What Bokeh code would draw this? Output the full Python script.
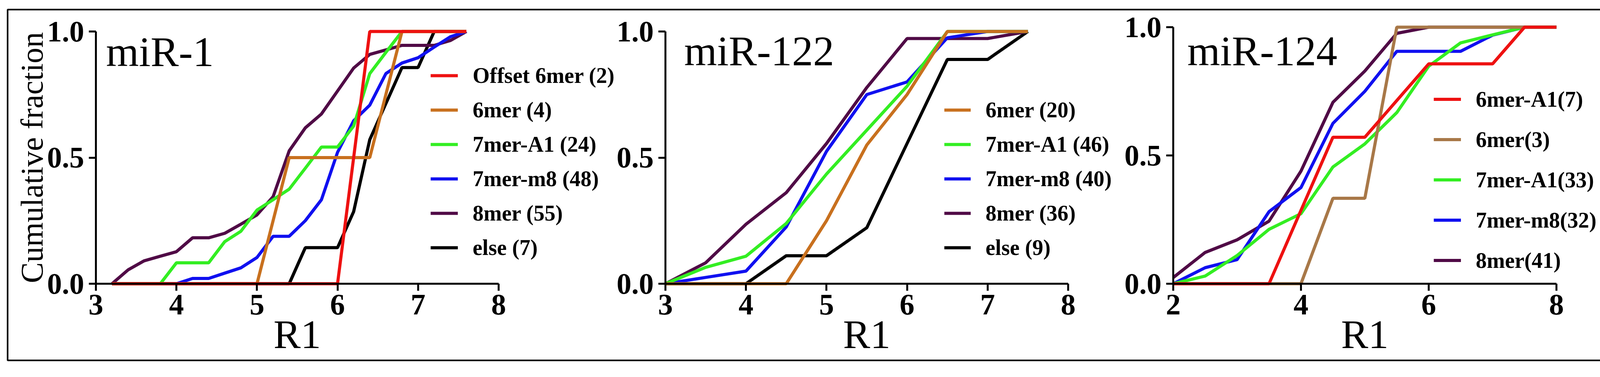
from bokeh.plotting import figure
from bokeh.models import (Range1d, LinearAxis, FixedTicker, PrintfTickFormatter,
                          Label, Legend, LegendItem)
from bokeh.core.properties import value
from bokeh.embed import file_html
from bokeh.resources import INLINE

# ---------------- data ----------------
# miR-1 panel
mir1_r1 = [3.2, 3.4, 3.6, 3.8, 4.0, 4.2, 4.4, 4.6, 4.8, 5.0, 5.2, 5.4,
           5.6, 5.8, 6.0, 6.2, 6.4, 6.6, 6.8, 7.0, 7.2, 7.4, 7.6]
mir1_offset6mer = [0, 0, 0, 0, 0, 0, 0, 0, 0, 0, 0, 0,
                   0, 0, 0, 0.5, 1, 1, 1, 1, 1, 1, 1]
mir1_6mer = [0, 0, 0, 0, 0, 0, 0, 0, 0, 0, 0.25, 0.5,
             0.5, 0.5, 0.5, 0.5, 0.5, 0.75, 1, 1, 1, 1, 1]
mir1_7merA1 = [0, 0, 0, 0, 0.083, 0.083, 0.083, 0.167, 0.208, 0.292, 0.333, 0.375,
               0.458, 0.542, 0.542, 0.625, 0.833, 0.917, 1, 1, 1, 1, 1]
mir1_7merm8 = [0, 0, 0, 0, 0, 0.021, 0.021, 0.042, 0.063, 0.104, 0.188, 0.188,
               0.25, 0.333, 0.521, 0.646, 0.708, 0.833, 0.875, 0.896, 0.938, 0.979, 1]
mir1_8mer = [0, 0.055, 0.091, 0.109, 0.127, 0.182, 0.182, 0.2, 0.236, 0.273, 0.345, 0.527,
             0.618, 0.673, 0.764, 0.855, 0.909, 0.927, 0.945, 0.945, 0.945, 0.964, 1]
mir1_else = [0, 0, 0, 0, 0, 0, 0, 0, 0, 0, 0, 0,
             0.143, 0.143, 0.143, 0.286, 0.571, 0.714, 0.857, 0.857, 1, 1, 1]
mir1_labels = ["Offset 6mer (2)", "6mer (4)", "7mer-A1 (24)", "7mer-m8 (48)", "8mer (55)", "else (7)"]

# miR-122 panel
mir122_r1 = [3.0, 3.5, 4.0, 4.5, 5.0, 5.5, 6.0, 6.5, 7.0, 7.5]
mir122_6mer = [0, 0, 0, 0, 0.25, 0.55, 0.75, 1, 1, 1]
mir122_7merA1 = [0, 0.065, 0.109, 0.239, 0.435, 0.609, 0.783, 1, 1, 1]
mir122_7merm8 = [0, 0.025, 0.05, 0.225, 0.525, 0.75, 0.8, 0.975, 1, 1]
mir122_8mer = [0, 0.083, 0.236, 0.361, 0.556, 0.778, 0.972, 0.972, 0.972, 1]
mir122_else = [0, 0, 0, 0.111, 0.111, 0.222, 0.556, 0.889, 0.889, 1]
mir122_labels = ["6mer (20)", "7mer-A1 (46)", "7mer-m8 (40)", "8mer (36)", "else (9)"]

# miR-124 panel
mir124_r1 = [2.0, 2.5, 3.0, 3.5, 4.0, 4.5, 5.0, 5.5, 6.0, 6.5, 7.0, 7.5, 8.0]
mir124_6merA1 = [0, 0, 0, 0, 0.286, 0.571, 0.571, 0.714, 0.857, 0.857, 0.857, 1, 1]
mir124_6mer = [0, 0, 0, 0, 0, 0.333, 0.333, 1, 1, 1, 1, 1, 1]
mir124_7merA1 = [0, 0.03, 0.11, 0.212, 0.273, 0.455, 0.545, 0.667, 0.848, 0.939, 0.97, 1, 1]
mir124_7merm8 = [0, 0.0625, 0.094, 0.281, 0.375, 0.625, 0.75, 0.906, 0.906, 0.906, 0.969, 1, 1]
mir124_8mer = [0.024, 0.122, 0.171, 0.244, 0.439, 0.707, 0.829, 0.976, 1, 1, 1, 1, 1]
mir124_labels = ["6mer-A1(7)", "6mer(3)", "7mer-A1(33)", "7mer-m8(32)", "8mer(41)"]

y_ticks = [0, 0.5, 1.0]

# ---------------- styles ----------------
FONT = "Liberation Serif"
RED, ORANGE, BROWN = "#ee1111", "#c8701e", "#a87848"
GREEN, BLUE, PURPLE, BLACK = "#33ee22", "#1010f0", "#500a46", "#000000"

CANVAS_W, CANVAS_H = 4144, 948
PAGE_OFF = 8
FRAME_L, FRAME_T, FRAME_R, FRAME_B = 27, 32, 4117, 929

panels = [
    dict(key="a", title="miR-1", x=mir1_r1,
         series=list(zip(mir1_labels,
                         [mir1_offset6mer, mir1_6mer, mir1_7merA1, mir1_7merm8, mir1_8mer, mir1_else],
                         [RED, ORANGE, GREEN, BLUE, PURPLE, BLACK])),
         xmin=3, xmax=8, xticks=[3, 4, 5, 6, 7, 8], xpx=(253, 1284), ypx=(733, 88),
         title_xy=(3.126, 0.919), legend_loc=(1083, 244), row_h=88, glyph_w=70, standoff=38,
         ylabel="Cumulative fraction"),
    dict(key="b", title="miR-122", x=mir122_r1,
         series=list(zip(mir122_labels,
                         [mir122_6mer, mir122_7merA1, mir122_7merm8, mir122_8mer, mir122_else],
                         [ORANGE, GREEN, BLUE, PURPLE, BLACK])),
         xmin=3, xmax=8, xticks=[3, 4, 5, 6, 7, 8], xpx=(1711, 2742), ypx=(733, 88),
         title_xy=(3.233, 0.922), legend_loc=(2398, 244), row_h=88, glyph_w=68, standoff=38,
         ylabel=None),
    dict(key="c", title="miR-124", x=mir124_r1,
         series=list(zip(mir124_labels,
                         [mir124_6merA1, mir124_6mer, mir124_7merA1, mir124_7merm8, mir124_8mer],
                         [RED, BROWN, GREEN, BLUE, PURPLE])),
         xmin=2, xmax=8, xticks=[2, 4, 6, 8], xpx=(3011, 3992), ypx=(733, 77),
         title_xy=(2.22, 0.907), legend_loc=(3651, 204), row_h=103, glyph_w=70, standoff=38,
         ylabel=None),
]

p = figure(width=CANVAS_W, height=CANVAS_H,
           x_range=Range1d(0, 1), y_range=Range1d(0, 1),
           x_axis_type=None, y_axis_type=None,
           toolbar_location=None, output_backend="svg",
           min_border_left=FRAME_L - PAGE_OFF, min_border_top=FRAME_T - PAGE_OFF,
           min_border_right=PAGE_OFF + CANVAS_W - FRAME_R,
           min_border_bottom=PAGE_OFF + CANVAS_H - FRAME_B)
p.outline_line_color = "black"
p.outline_line_width = 4
p.background_fill_color = "white"
p.border_fill_color = "white"

for pn in panels:
    xn, yn = "x_" + pn["key"], "y_" + pn["key"]
    # map the panel's data window onto its pixel block of the shared frame
    (px0, px1) = pn["xpx"]
    ux = (px1 - px0) / (pn["xmax"] - pn["xmin"])
    p.extra_x_ranges[xn] = Range1d(pn["xmin"] - (px0 - FRAME_L) / ux,
                                   pn["xmax"] + (FRAME_R - px1) / ux)
    (py0, py1) = pn["ypx"]
    uy = py0 - py1
    p.extra_y_ranges[yn] = Range1d(-(FRAME_B - py0) / uy, 1 + (py1 - FRAME_T) / uy)

    rends = {}
    for lab, vals, col in reversed(pn["series"]):
        rends[lab] = p.line(pn["x"], vals, x_range_name=xn, y_range_name=yn,
                            line_color=col, line_width=8)

    common = dict(axis_line_width=5, major_tick_line_width=5, major_tick_out=18,
                  major_tick_in=0, minor_tick_out=0, minor_tick_in=0,
                  major_label_text_font=FONT, major_label_text_font_style="bold",
                  major_label_text_font_size="76px", major_label_text_color="black",
                  axis_label_text_font=FONT, axis_label_text_font_style="normal",
                  axis_label_text_color="black")
    xa = LinearAxis(x_range_name=xn, y_range_name=yn, fixed_location=0,
                    bounds=(pn["xmin"], pn["xmax"]),
                    ticker=FixedTicker(ticks=pn["xticks"]),
                    axis_label="R1", axis_label_text_font_size="104px",
                    axis_label_standoff=-10, major_label_standoff=10, **common)
    p.add_layout(xa, "below")
    ya = LinearAxis(x_range_name=xn, y_range_name=yn, fixed_location=pn["xmin"],
                    bounds=(0, 1), ticker=FixedTicker(ticks=y_ticks),
                    formatter=PrintfTickFormatter(format="%.1f"),
                    axis_label=pn["ylabel"], axis_label_text_font_size="80px",
                    axis_label_standoff=-8, major_label_standoff=12, **common)
    p.add_layout(ya, "left")

    tx, ty = pn["title_xy"]
    p.add_layout(Label(x=tx, y=ty, x_range_name=xn, y_range_name=yn, text=pn["title"],
                       text_font=FONT, text_font_size="108px", text_baseline="alphabetic",
                       text_color="black"))

    leg = Legend(items=[LegendItem(label=value(lab), renderers=[rends[lab]])
                        for lab, _, _ in pn["series"]],
                 location=pn["legend_loc"], orientation="vertical",
                 padding=0, margin=0, spacing=0,
                 glyph_width=pn["glyph_w"], glyph_height=pn["row_h"],
                 label_height=pn["row_h"], label_standoff=pn["standoff"],
                 label_text_font=FONT, label_text_font_style="bold",
                 label_text_font_size="56px", label_text_color="black",
                 border_line_alpha=0, background_fill_alpha=0)
    p.add_layout(leg, "center")

open("out.html", "w").write(file_html(p, INLINE))
